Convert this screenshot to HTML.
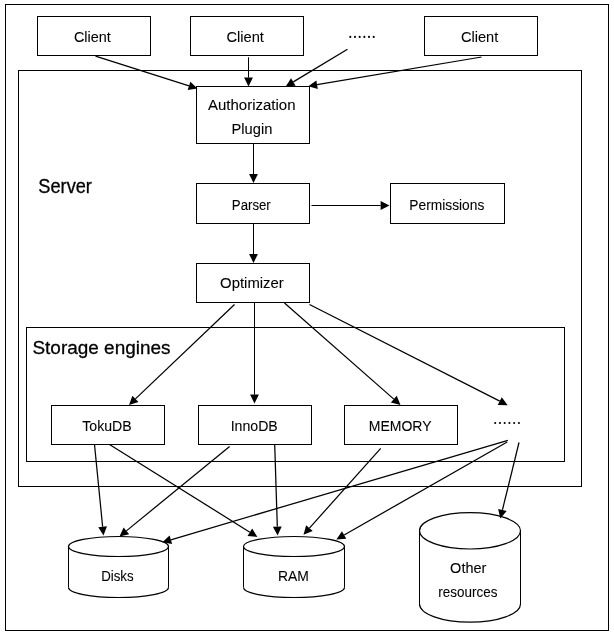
<!DOCTYPE html>
<html><head><meta charset="utf-8"><style>
html,body{margin:0;padding:0;background:#fff;width:614px;height:638px;overflow:hidden}
svg{display:block;will-change:transform}
.g rect,.g line,.g path{fill:none;stroke:#000;stroke-width:1}
.g path.h{fill:#000;stroke:none}
text{font-family:"Liberation Sans",sans-serif;fill:#000;stroke:#000}
</style></head><body>
<svg width="614" height="638" viewBox="0 0 614 638">
<g class="g">
<rect x="5.5" y="4.5" width="603" height="626"/>
<rect x="37.5" y="16.5" width="113" height="39"/>
<rect x="190.5" y="16.5" width="113" height="39"/>
<rect x="424.5" y="16.5" width="113" height="39"/>
<rect x="18.5" y="70.5" width="563" height="416"/>
<rect x="196.5" y="86.5" width="113" height="57"/>
<rect x="196.5" y="183.5" width="113" height="40"/>
<rect x="390.5" y="183.5" width="114" height="40"/>
<rect x="196.5" y="263.5" width="113" height="39"/>
<rect x="26.5" y="327.5" width="538" height="134"/>
<rect x="51.5" y="405.5" width="113" height="39"/>
<rect x="198.5" y="405.5" width="113" height="39"/>
<rect x="344.5" y="405.5" width="113" height="39"/>
<path style="stroke-width:1.2" d="M68.5,546.5A50.0,10 0 0 1 168.5,546.5A50.0,10 0 0 1 68.5,546.5Z"/>
<path style="stroke-width:1.2" d="M68.5,587.5A50.0,10 0 0 0 168.5,587.5"/>
<path d="M68.5,546.5L68.5,587.5M168.5,546.5L168.5,587.5"/>
<path style="stroke-width:1.2" d="M243.5,546.5A50.5,10 0 0 1 344.5,546.5A50.5,10 0 0 1 243.5,546.5Z"/>
<path style="stroke-width:1.2" d="M243.5,587.5A50.5,10 0 0 0 344.5,587.5"/>
<path d="M243.5,546.5L243.5,587.5M344.5,546.5L344.5,587.5"/>
<path style="stroke-width:1.2" d="M419.5,530.8000000000001A50.5,18.2 0 0 1 520.5,530.8000000000001A50.5,18.2 0 0 1 419.5,530.8000000000001Z"/>
<path style="stroke-width:1.2" d="M419.5,604.0A50.5,18.2 0 0 0 520.5,604.0"/>
<path d="M419.5,530.8000000000001L419.5,604.0M520.5,530.8000000000001L520.5,604.0"/>
<line x1="95.5" y1="56.2" x2="189.02" y2="85.91" style="stroke-width:1.25"/>
<path class="h" d="M197.50,88.60L187.69,90.10L190.35,81.71Z"/>
<line x1="248.5" y1="57.3" x2="248.50" y2="77.60"/>
<path class="h" d="M248.50,86.50L244.10,77.60L252.90,77.60Z"/>
<line x1="347.5" y1="49.3" x2="293.33" y2="81.91" style="stroke-width:1.25"/>
<path class="h" d="M285.70,86.50L291.06,78.14L295.59,85.68Z"/>
<line x1="481.5" y1="57" x2="317.08" y2="84.72" style="stroke-width:1.25"/>
<path class="h" d="M308.30,86.20L316.34,80.38L317.81,89.06Z"/>
<line x1="253.5" y1="143.5" x2="253.50" y2="174.10"/>
<path class="h" d="M253.50,183.00L249.10,174.10L257.90,174.10Z"/>
<line x1="311.5" y1="205.5" x2="380.60" y2="205.50"/>
<path class="h" d="M389.50,205.50L380.60,209.90L380.60,201.10Z"/>
<line x1="253.5" y1="223.5" x2="253.50" y2="254.10"/>
<path class="h" d="M253.50,263.00L249.10,254.10L257.90,254.10Z"/>
<line x1="234.5" y1="304.5" x2="135.44" y2="398.86" style="stroke-width:1.25"/>
<path class="h" d="M129.00,405.00L132.41,395.68L138.48,402.05Z"/>
<line x1="254.5" y1="302.5" x2="254.50" y2="394.60"/>
<path class="h" d="M254.50,403.50L250.10,394.60L258.90,394.60Z"/>
<line x1="284.5" y1="303" x2="393.82" y2="399.12" style="stroke-width:1.25"/>
<path class="h" d="M400.50,405.00L390.91,402.43L396.72,395.82Z"/>
<line x1="309.5" y1="304.5" x2="499.77" y2="401.17" style="stroke-width:1.25"/>
<path class="h" d="M507.70,405.20L497.77,405.09L501.76,397.25Z"/>
<line x1="94.5" y1="444.5" x2="102.63" y2="526.74" style="stroke-width:1.25"/>
<path class="h" d="M103.50,535.60L98.25,527.18L107.00,526.31Z"/>
<line x1="109.5" y1="444.5" x2="249.85" y2="532.18" style="stroke-width:1.25"/>
<path class="h" d="M257.40,536.90L247.52,535.92L252.18,528.45Z"/>
<line x1="229.6" y1="446.5" x2="126.39" y2="530.87" style="stroke-width:1.25"/>
<path class="h" d="M119.50,536.50L123.61,527.46L129.18,534.27Z"/>
<line x1="274.7" y1="444.5" x2="277.32" y2="526.60" style="stroke-width:1.25"/>
<path class="h" d="M277.60,535.50L272.92,526.74L281.71,526.46Z"/>
<line x1="380.7" y1="448.3" x2="309.43" y2="528.16" style="stroke-width:1.25"/>
<path class="h" d="M303.50,534.80L306.14,525.23L312.71,531.09Z"/>
<line x1="507.9" y1="440.3" x2="170.84" y2="539.78" style="stroke-width:1.25"/>
<path class="h" d="M162.30,542.30L169.59,535.56L172.08,544.00Z"/>
<line x1="507.2" y1="442.0" x2="344.13" y2="534.99" style="stroke-width:1.25"/>
<path class="h" d="M336.40,539.40L341.95,531.17L346.31,538.81Z"/>
<line x1="519.0" y1="442.5" x2="502.42" y2="509.96" style="stroke-width:1.25"/>
<path class="h" d="M500.30,518.60L498.15,508.91L506.70,511.01Z"/>
</g>
<g>
<text x="73.89" y="42.10" font-size="15.50" textLength="36.87" lengthAdjust="spacingAndGlyphs" stroke-width="0.08">Client</text>
<text x="226.42" y="42.10" font-size="15.50" textLength="37.56" lengthAdjust="spacingAndGlyphs" stroke-width="0.08">Client</text>
<text x="460.88" y="42.10" font-size="15.50" textLength="37.34" lengthAdjust="spacingAndGlyphs" stroke-width="0.08">Client</text>
<text x="207.97" y="109.80" font-size="14.00" textLength="87.52" lengthAdjust="spacingAndGlyphs" stroke-width="0.08">Authorization</text>
<text x="231.51" y="133.60" font-size="14.00" textLength="40.83" lengthAdjust="spacingAndGlyphs" stroke-width="0.08">Plugin</text>
<text x="38.35" y="193.00" font-size="19.40" textLength="53.56" lengthAdjust="spacingAndGlyphs" stroke-width="0.3">Server</text>
<text x="231.82" y="210.10" font-size="14.00" textLength="38.96" lengthAdjust="spacingAndGlyphs" stroke-width="0.08">Parser</text>
<text x="409.35" y="209.80" font-size="14.00" textLength="74.94" lengthAdjust="spacingAndGlyphs" stroke-width="0.08">Permissions</text>
<text x="220.13" y="287.60" font-size="14.00" textLength="63.67" lengthAdjust="spacingAndGlyphs" stroke-width="0.08">Optimizer</text>
<text x="32.45" y="353.90" font-size="19.20" textLength="138.09" lengthAdjust="spacingAndGlyphs" stroke-width="0.3">Storage engines</text>
<text x="82.25" y="430.80" font-size="14.00" textLength="49.37" lengthAdjust="spacingAndGlyphs" stroke-width="0.08">TokuDB</text>
<text x="230.65" y="430.80" font-size="14.00" textLength="47.17" lengthAdjust="spacingAndGlyphs" stroke-width="0.08">InnoDB</text>
<text x="368.74" y="430.60" font-size="14.00" textLength="62.86" lengthAdjust="spacingAndGlyphs" stroke-width="0.08">MEMORY</text>
<text x="101.14" y="580.60" font-size="14.00" textLength="32.51" lengthAdjust="spacingAndGlyphs" stroke-width="0.08">Disks</text>
<text x="277.89" y="580.60" font-size="14.00" textLength="30.89" lengthAdjust="spacingAndGlyphs" stroke-width="0.08">RAM</text>
<text x="450.14" y="573.30" font-size="14.00" textLength="36.19" lengthAdjust="spacingAndGlyphs" stroke-width="0.08">Other</text>
<text x="438.33" y="596.80" font-size="14.00" textLength="59.03" lengthAdjust="spacingAndGlyphs" stroke-width="0.08">resources</text>
<g fill="#000"><circle cx="350.30" cy="36.9" r="1.05"/><circle cx="495.20" cy="423" r="1.05"/><circle cx="354.98" cy="36.9" r="1.05"/><circle cx="499.94" cy="423" r="1.05"/><circle cx="359.66" cy="36.9" r="1.05"/><circle cx="504.68" cy="423" r="1.05"/><circle cx="364.34" cy="36.9" r="1.05"/><circle cx="509.42" cy="423" r="1.05"/><circle cx="369.02" cy="36.9" r="1.05"/><circle cx="514.16" cy="423" r="1.05"/><circle cx="373.70" cy="36.9" r="1.05"/><circle cx="518.90" cy="423" r="1.05"/></g>
</g>
</svg></body></html>
